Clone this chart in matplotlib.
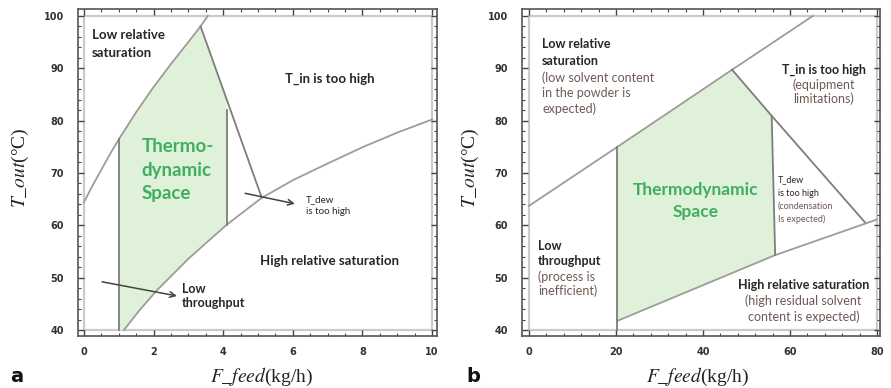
import numpy as np
import matplotlib.pyplot as plt
from matplotlib.patches import Rectangle
from matplotlib.ticker import MultipleLocator

plt.rcParams['mathtext.fontset'] = 'stix'

# ---- panel a : F_feed 0..10 kg/h ----
a_low_sat_x = [0, 0.25, 0.5, 0.75, 1, 1.5, 2, 2.5, 3, 3.35, 3.56]
a_low_sat_y = [64.4, 67.6, 70.6, 73.6, 76.4, 81.6, 86.4, 90.8, 95.0, 98.0, 100]
a_high_sat_x = [1.15, 1.6, 2.1, 3, 4.1, 5.1, 6, 7, 8, 9, 10]
a_high_sat_y = [40, 43.8, 47.6, 53.6, 60.1, 65.2, 68.6, 71.8, 74.9, 77.7, 80.2]
a_tin_x = [3.35, 5.1]
a_tin_y = [98.0, 65.4]
a_fmin = 1.0        # minimum throughput
a_tdew_x = 4.1      # dew point limit
a_tdew_top = 82.0

# ---- panel b : F_feed 0..80 kg/h ----
b_low_sat_x = [0, 20.2, 46.7, 65.3]
b_low_sat_y = [63.7, 74.9, 89.7, 100]
b_high_sat_x = [20.2, 56.6, 80]
b_high_sat_y = [41.7, 54.3, 61.1]
b_tin_x = [46.7, 55.8, 77.2]
b_tin_y = [89.7, 80.9, 60.6]
b_fmin = 20.2
b_tdew_x = [55.8, 56.6]
b_tdew_y = [80.9, 54.3]

LINE = '#9c9c9c'
EDGE = '#7d7d7d'
FILL = '#e0f1da'
DARK = '#2b2523'
BROWN = '#6e5a54'
GREEN = '#3fae5f'
SANS = 'Lato'

W, H = 891, 388
fig = plt.figure(figsize=(W / 100, H / 100), dpi=100)


def panel(left, right, top, bottom):
    return fig.add_axes([left / W, 1 - bottom / H, (right - left) / W, (bottom - top) / H])


def frame(ax, xmax, xmajor, xminor):
    ax.add_patch(Rectangle((0, 40), xmax, 60, fill=False, ec='#cacaca', lw=1.6, zorder=1))
    ax.xaxis.set_major_locator(MultipleLocator(xmajor))
    ax.xaxis.set_minor_locator(MultipleLocator(xminor))
    ax.yaxis.set_major_locator(MultipleLocator(10))
    ax.yaxis.set_minor_locator(MultipleLocator(2))
    ax.tick_params(which='both', direction='in', top=True, right=True, color='#444444')
    ax.tick_params(which='major', length=4, width=1)
    ax.tick_params(which='minor', length=2.5, width=0.8)
    ax.tick_params(axis='x', pad=8)
    ax.tick_params(axis='y', pad=10)
    for lab in ax.get_xticklabels() + ax.get_yticklabels():
        lab.set_fontsize(7)
        lab.set_fontweight('bold')
        lab.set_fontfamily('DejaVu Sans')
        lab.set_color('#333333')
    for s in ax.spines.values():
        s.set_color('#555555')
        s.set_linewidth(1.2)


def lines(ax, x, ys, texts, colors, size, weight, ha='left'):
    for y, t, c, w in zip(ys, texts, colors, weight):
        ax.text(x, y, t, color=c, fontsize=size, fontweight=w, fontfamily=SANS,
                ha=ha, va='baseline', zorder=5)


ax_a = panel(78, 437, 9, 336)
ax_b = panel(522, 880, 9, 336)
ax_a.set_xlim(-0.17, 10.14)
ax_b.set_xlim(-1.6, 80.7)
for ax in (ax_a, ax_b):
    ax.set_ylim(38.85, 101.3)
frame(ax_a, 10, 2, 0.5)
frame(ax_b, 80, 20, 4)

# panel a: feasible region
top_a = np.interp(a_fmin, a_low_sat_x, a_low_sat_y)
tin_at_dew = np.interp(a_tdew_x, a_tin_x, a_tin_y)
low_a = np.interp(a_tdew_x, a_high_sat_x, a_high_sat_y)
up_pts = [(x, y) for x, y in zip(a_low_sat_x, a_low_sat_y) if a_fmin < x <= a_tin_x[0]]
lo_pts = [(x, y) for x, y in zip(a_high_sat_x, a_high_sat_y) if x < a_tdew_x][::-1]
poly_a = [(a_fmin, 40), (a_fmin, top_a)] + up_pts + [(a_tdew_x, tin_at_dew), (a_tdew_x, low_a)] + lo_pts
ax_a.fill([p[0] for p in poly_a], [p[1] for p in poly_a], color=FILL, lw=0, zorder=2)

ax_a.plot(a_low_sat_x, a_low_sat_y, color=LINE, lw=1.3, zorder=3)
ax_a.plot(a_high_sat_x, a_high_sat_y, color=LINE, lw=1.3, zorder=3)
ax_a.plot(a_tin_x, a_tin_y, color=EDGE, lw=1.3, zorder=3)
ax_a.plot([a_fmin, a_fmin], [40, top_a], color=EDGE, lw=1.3, zorder=3)
ax_a.plot([a_tdew_x, a_tdew_x], [low_a, a_tdew_top], color=EDGE, lw=1.3, zorder=3)

arrow = dict(arrowstyle='->', color='#444444', lw=1.1, shrinkA=0, shrinkB=0)
ax_a.annotate('', xy=(6.06, 64.1), xytext=(4.63, 66.1), arrowprops=arrow, zorder=4)
ax_a.annotate('', xy=(2.67, 46.5), xytext=(0.52, 49.2), arrowprops=arrow, zorder=4)

lines(ax_a, 0.23, [95.6, 92.2], ['Low relative', 'saturation'], [DARK] * 2, 9.5, ['bold'] * 2)
lines(ax_a, 7.07, [87.3], ['T_in is too high'], [DARK], 9.5, ['bold'], ha='center')
lines(ax_a, 1.66, [74.0, 69.5, 65.0], ['Thermo-', 'dynamic', 'Space'], [GREEN] * 3, 13.5, ['bold'] * 3)
lines(ax_a, 6.38, [64.5, 62.2], ['T_dew', 'is too high'], [DARK] * 2, 7, ['normal'] * 2)
lines(ax_a, 2.81, [47.0, 44.4], ['Low', 'throughput'], [DARK] * 2, 9, ['bold'] * 2)
lines(ax_a, 5.06, [52.4], ['High relative saturation'], [DARK], 9.5, ['bold'])

# panel b: feasible region
top_b = np.interp(b_fmin, b_low_sat_x, b_low_sat_y)
poly_b = ([(b_fmin, b_high_sat_y[0]), (b_fmin, top_b), (b_tin_x[0], b_tin_y[0])]
          + list(zip(b_tdew_x, b_tdew_y)))
ax_b.fill([p[0] for p in poly_b], [p[1] for p in poly_b], color=FILL, lw=0, zorder=2)

ax_b.plot(b_low_sat_x, b_low_sat_y, color=LINE, lw=1.3, zorder=3)
ax_b.plot(b_high_sat_x, b_high_sat_y, color=LINE, lw=1.3, zorder=3)
ax_b.plot(b_tin_x, b_tin_y, color=EDGE, lw=1.3, zorder=3)
ax_b.plot(b_tdew_x, b_tdew_y, color=EDGE, lw=1.3, zorder=3)
ax_b.plot([b_fmin, b_fmin], [40, top_b], color=EDGE, lw=1.3, zorder=3)

lines(ax_b, 3.0, [93.8, 90.6, 87.4, 84.5, 81.4],
      ['Low relative', 'saturation', '(low solvent content', 'in the powder is', 'expected)'],
      [DARK, DARK, BROWN, BROWN, BROWN], 9, ['bold', 'bold', 'normal', 'normal', 'normal'])
lines(ax_b, 67.8, [89.0, 86.0, 83.3], ['T_in is too high', '(equipment', 'limitations)'],
      [DARK, BROWN, BROWN], 9, ['bold', 'normal', 'normal'], ha='center')
lines(ax_b, 57.2, [68.3, 65.5, 63.2, 60.7],
      ['T_dew', 'is too high', '(condensation', 'Is expected)'],
      [DARK, DARK, BROWN, BROWN], 6.5, ['normal'] * 4)
lines(ax_b, 38.3, [65.8, 61.6], ['Thermodynamic', 'Space'], [GREEN] * 2, 12.5, ['bold'] * 2, ha='center')
lines(ax_b, 2.1, [55.3, 52.4, 49.4, 46.7], ['Low', 'throughput', '(process is', 'inefficient)'],
      [DARK, DARK, BROWN, BROWN], 9, ['bold', 'bold', 'normal', 'normal'])
lines(ax_b, 63.1, [47.8, 44.8, 41.8],
      ['High relative saturation', '(high residual solvent', 'content is expected)'],
      [DARK, BROWN, BROWN], 9, ['bold', 'normal', 'normal'], ha='center')

# axis titles and panel letters
serif = dict(fontfamily='Liberation Serif', fontsize=14, color='#222222', ha='center', va='center')
for cx, lx in ((20, 262), (470, 698)):
    fig.text(cx / W, 1 - 168 / H, r'$\mathit{T\_out}$(°C)', rotation=90, **serif)
    fig.text(lx / W, 1 - 377 / H, r'$\mathit{F\_feed}$(kg/h)', **serif)
fig.text(17 / W, 1 - 377 / H, 'a', fontfamily='DejaVu Sans', fontsize=14, fontweight='bold',
         color='#111111', ha='center', va='center')
fig.text(473 / W, 1 - 377 / H, 'b', fontfamily='DejaVu Sans', fontsize=14, fontweight='bold',
         color='#111111', ha='center', va='center')

fig.savefig('out.png', dpi=100)
